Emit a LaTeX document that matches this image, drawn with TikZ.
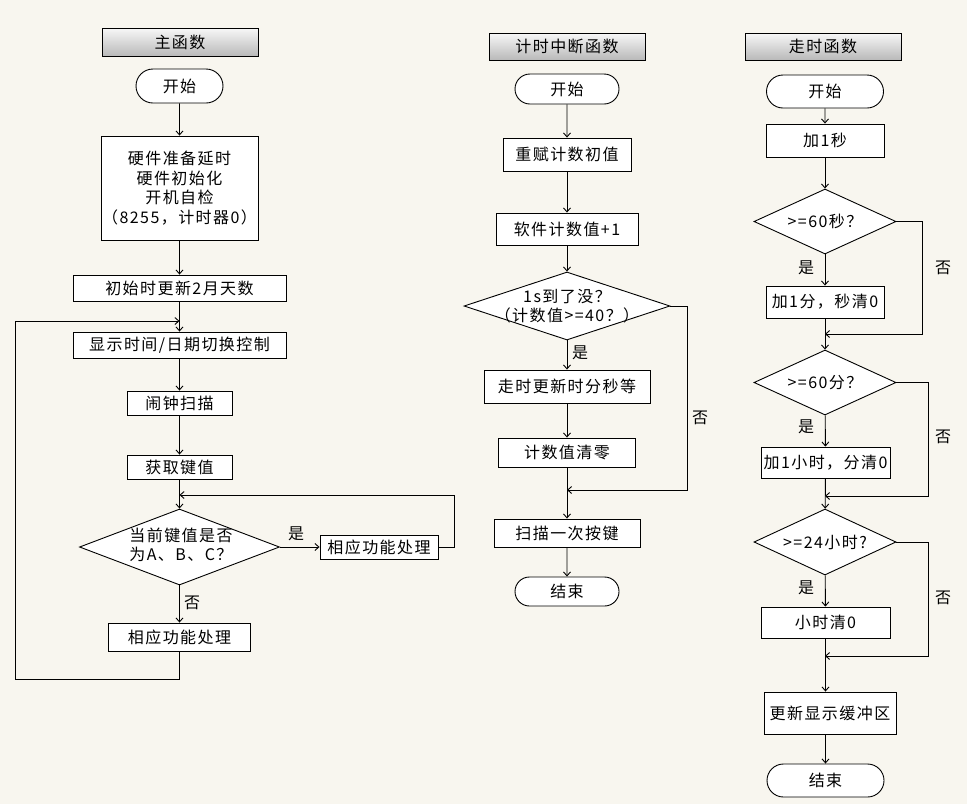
\documentclass[tikz,border=0pt]{standalone}
\usepackage{fontspec}
\setmainfont{Noto Sans CJK SC}[LetterSpace=9]
\usetikzlibrary{shapes.geometric,shapes.misc,arrows.meta}

\definecolor{bgcol}{HTML}{F8F6EF}

\tikzset{
  base/.style={draw, line width=0.9pt, inner sep=0pt, font=\fontsize{16}{19.5}\selectfont},
  sz/.style 2 args={minimum width=#1, minimum height=#2},
  title/.style={base, top color=gray!6, bottom color=gray!55},
  term/.style={base, rounded rectangle, fill=white},
  proc/.style={base, rectangle, fill=white},
  decision/.style={base, diamond, fill=white},
  arr/.style={line width=0.9pt, -{Straight Barb[length=4pt,width=7pt]}},
  line/.style={line width=0.9pt},
  lbl/.style={inner sep=0pt, font=\fontsize{16}{19.5}\selectfont, align=center}
}

\begin{document}
\begin{tikzpicture}[x=1pt, y=-1pt]
  % Background
  \fill[bgcol] (0,0) rectangle (967,804);
  \useasboundingbox (0,0) rectangle (967,804);

  % Main function
  \node[title, sz={156}{28}] (mtitle) at (180,42) {主函数};
  \node[term, sz={87}{34}] (ms) at (179.5,86) {开始};
  \node[proc, sz={157}{104}, align=center] (mhw) at (179.5,188)
    {硬件准备延时\\硬件初始化\\开机自检\\（8255，计时器0）};
  \node[proc, sz={213}{26}] (minit) at (179.5,288) {初始时更新2月天数};
  \node[proc, sz={213}{26}] (mdisp) at (179.5,345) {显示时间/日期切换控制};
  \node[proc, sz={105}{24}] (malarm) at (179.5,403) {闹钟扫描};
  \node[proc, sz={105}{24}] (mkey) at (179.5,467) {获取键值};
  \node[decision, sz={200}{76}] (mq) at (179.5,547) {};
  \node[lbl, align=left] (mqtxt) at (181,545) {当前键值是否\\为A、B、C？};
  \node[proc, sz={118}{24}] (myes) at (379,547) {相应功能处理};
  \node[proc, sz={142}{28}] (mno) at (179.5,637) {相应功能处理};
  \node[lbl] (myeslbl) at (296,534) {是};
  \node[lbl] (mnolbl) at (192,603) {否};

  \coordinate (mjoin) at (179.5,321);
  \coordinate (mback) at (179.5,495);
  \coordinate (mcorner) at (15,679);
  \coordinate (mright) at (454,547);

  \draw[arr] (ms) -- (mhw);
  \draw[arr] (mhw) -- (minit);
  \draw[arr] (minit) -- (mdisp);
  \draw[arr] (mdisp) -- (malarm);
  \draw[arr] (malarm) -- (mkey);
  \draw[arr] (mkey) -- (mq);
  \draw[arr] (mq) -- (myes);
  \draw[arr] (mq) -- (mno);
  \draw[arr] (myes.east) -- (mright) |- (mback);
  \draw[arr] (mno.south) |- (mcorner) |- (mjoin);

  % Timer interrupt
  \node[title, sz={156}{27}] (ititle) at (567,46.5) {计时中断函数};
  \node[term, sz={104}{30}] (is) at (567,89) {开始};
  \node[proc, sz={128}{33}] (ireset) at (567,154.5) {重赋计数初值};
  \node[proc, sz={142}{32}] (iinc) at (567,229) {软件计数值+1};
  \node[decision, sz={206}{68}] (ichk) at (567,306) {};
  \node[lbl] (ichktxt) at (567,306) {1s到了没？\\（计数值>=40？）};
  \node[proc, sz={166}{33}] (iupd) at (567,386.5) {走时更新时分秒等};
  \node[proc, sz={137}{29}] (iclr) at (567,452.5) {计数值清零};
  \node[proc, sz={146}{28}] (iscan) at (567,533) {扫描一次按键};
  \node[term, sz={104}{29}] (iend) at (567,591.5) {结束};
  \node[lbl] (iyeslbl) at (580,353) {是};
  \node[lbl] (inolbl) at (700,418) {否};

  \coordinate (ijoin) at (567,490);
  \coordinate (iright) at (687,306);

  \draw[arr] (is) -- (ireset);
  \draw[arr] (ireset) -- (iinc);
  \draw[arr] (iinc) -- (ichk);
  \draw[arr] (ichk) -- (iupd);
  \draw[arr] (iupd) -- (iclr);
  \draw[arr] (iclr) -- (iscan);
  \draw[arr] (iscan) -- (iend);
  \draw[arr] (ichk.east) -- (iright) |- (ijoin);

  % Clock function
  \node[title, sz={156}{27}] (rtitle) at (823,46.5) {走时函数};
  \node[term, sz={117}{33}] (rs) at (825,91.5) {开始};
  \node[proc, sz={118}{33}] (radds) at (825,140.5) {加1秒};
  \node[decision, sz={142}{65}] (rq1) at (825,221.5) {};
  \node[lbl] (rq1txt) at (825,221.5) {>=60秒？};
  \node[proc, sz={118}{32}] (raddm) at (825,302) {加1分，秒清0};
  \node[decision, sz={142}{65}] (rq2) at (825,382.5) {};
  \node[lbl] (rq2txt) at (825,382.5) {>=60分？};
  \node[proc, sz={129}{31}] (raddh) at (825.5,462.5) {加1小时，分清0};
  \node[decision, sz={142}{66}] (rq3) at (825,542) {};
  \node[lbl] (rq3txt) at (825,542) {>=24小时?};
  \node[proc, sz={129}{31}] (rhclr) at (825.5,622.5) {小时清0};
  \node[proc, sz={132}{42}] (rbuf) at (830,713) {更新显示缓冲区};
  \node[term, sz={117}{33}] (rend) at (825.5,780.5) {结束};

  \node[lbl] (ry1) at (806,268) {是};
  \node[lbl] (rn1) at (943,268) {否};
  \node[lbl] (ry2) at (806,427) {是};
  \node[lbl] (rn2) at (943,437) {否};
  \node[lbl] (ry3) at (806,588) {是};
  \node[lbl] (rn3) at (943,598) {否};

  \coordinate (rj1) at (825,334);
  \coordinate (rj2) at (825,496);
  \coordinate (rj3) at (825,656);
  \coordinate (rr1) at (922,221.5);
  \coordinate (rr2) at (928,382.5);
  \coordinate (rr3) at (928,542);

  \draw[arr] (rs) -- (radds);
  \draw[arr] (radds) -- (rq1);
  \draw[arr] (rq1) -- (raddm);
  \draw[arr] (raddm) -- (rq2);
  \draw[arr] (rq2) -- (raddh);
  \draw[arr] (raddh) -- (rq3);
  \draw[arr] (rq3) -- (rhclr);
  \draw[arr] (rhclr.south) -- (rhclr.south |- rbuf.north);
  \draw[arr] (rhclr.south |- rbuf.south) -- (rend);
  \draw[arr] (rq1.east) -- (rr1) |- (rj1);
  \draw[arr] (rq2.east) -- (rr2) |- (rj2);
  \draw[arr] (rq3.east) -- (rr3) |- (rj3);
\end{tikzpicture}
\end{document}
